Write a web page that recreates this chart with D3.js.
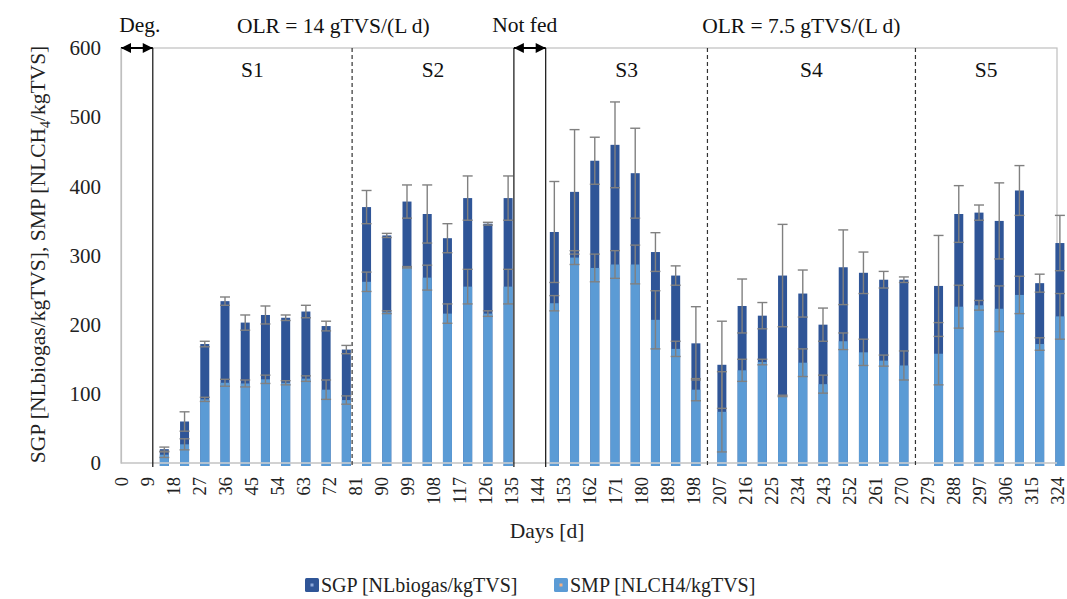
<!DOCTYPE html>
<html>
<head>
<meta charset="utf-8">
<script src="https://cdn.jsdelivr.net/npm/d3@7"></script>
<style>
  html, body { margin: 0; padding: 0; background: #fff; }
  svg { display: block; font-family: "Liberation Serif", "Times New Roman", serif; }
</style>
</head>
<body>
<svg id="chart" width="1067" height="599"></svg>
<script>
// Sampling days (weekly measurements over the five stages)
const days = [15, 22, 29, 36, 43, 50, 57, 64, 71, 78,
              85, 92, 99, 106, 113, 120, 127, 134,
              150, 157, 164, 171, 178, 185, 192, 199,
              208, 215, 222, 229, 236, 243, 250, 257, 264, 271,
              283, 290, 297, 304, 311, 318, 325];

// Specific gas production [NL biogas / kg TVS] and its standard deviation
const sgp = [20, 60, 172, 234, 203, 214, 210, 219, 198, 164,
             370, 329, 378, 360, 325, 383, 346, 383,
             334, 392, 437, 460, 419, 305, 271, 173,
             142, 227, 213, 271, 245, 200, 283, 275, 265, 265,
             256, 360, 362, 350, 394, 260, 318];
const sgpErr = [3, 14, 4, 6, 11, 13, 4, 9, 7, 6,
                24, 3, 24, 42, 21, 32, 2, 32,
                73, 90, 34, 62, 65, 28, 14, 53,
                63, 39, 19, 74, 34, 24, 54, 30, 12, 4,
                73, 41, 11, 55, 36, 13, 40];

// Specific methane production [NL CH4 / kg TVS] and its standard deviation
const smp = [12, 27, 92, 116, 115, 121, 116, 122, 106, 91,
             262, 218, 283, 268, 216, 255, 216, 255,
             231, 297, 282, 287, 287, 207, 165, 106,
             74, 134, 146, 97, 145, 114, 176, 160, 148, 141,
             158, 226, 228, 223, 243, 172, 212];
const smpErr = [4, 8, 3, 5, 5, 6, 3, 4, 14, 6,
                14, 2, 1, 18, 14, 25, 4, 25,
                11, 10, 20, 20, 28, 42, 11, 16,
                58, 16, 4, 1, 20, 13, 12, 19, 8, 21,
                45, 31, 7, 33, 27, 9, 33];

// Axis ticks
const xTicks = d3.range(0, 325, 9);
const yTicks = [0, 100, 200, 300, 400, 500, 600];

// Operating periods
const solidLines = [11, 136, 147];          // end of degassing, not-fed window
const dashedLines = [80, 203, 275];         // S1|S2, S3|S4, S4|S5
const stages = [
  { name: "S1", from: 11, to: 80 },
  { name: "S2", from: 80, to: 136 },
  { name: "S3", from: 147, to: 203 },
  { name: "S4", from: 203, to: 275 },
  { name: "S5", from: 275, to: 324 }
];
const loadings = [
  { label: "OLR = 14 gTVS/(L d)", from: 11, to: 136 },
  { label: "OLR = 7.5 gTVS/(L d)", from: 147, to: 324 }
];
const arrows = [
  { label: "Deg.", from: 0, to: 11, shift: 3 },
  { label: "Not fed", from: 136, to: 147, shift: -5 }
];

const C_SGP = "#2F5597";
const C_SMP = "#5B9BD5";
const C_ERR = "#808080";
const FS = 21.5;

const svg = d3.select("#chart");
const pLeft = 121, pRight = 1057, pTop = 48, pBottom = 463;

const x = d3.scaleLinear().domain([0, 324]).range([pLeft, pRight]);
const y = d3.scaleLinear().domain([0, 600]).range([pBottom, pTop]);
const barW = 9, capW = 10;

// plot frame
svg.append("rect")
  .attr("x", pLeft).attr("y", pTop)
  .attr("width", pRight - pLeft).attr("height", pBottom - pTop)
  .attr("fill", "none").attr("stroke", "#BFBFBF").attr("stroke-width", 1.2);

// bars: SGP behind, SMP in front
const rows = days.map((d, i) => ({ d, sgp: sgp[i], sgpErr: sgpErr[i], smp: smp[i], smpErr: smpErr[i] }));

svg.append("g").selectAll("rect").data(rows).join("rect")
  .attr("x", r => x(r.d) - barW / 2).attr("width", barW)
  .attr("y", r => y(r.sgp)).attr("height", r => y(0) - y(r.sgp) + 3)
  .attr("fill", C_SGP);

svg.append("g").selectAll("rect").data(rows).join("rect")
  .attr("x", r => x(r.d) - barW / 2).attr("width", barW)
  .attr("y", r => y(r.smp)).attr("height", r => y(0) - y(r.smp) + 3)
  .attr("fill", C_SMP);

// x axis line drawn over bar feet
svg.append("line")
  .attr("x1", pLeft).attr("x2", pRight).attr("y1", y(0)).attr("y2", y(0))
  .attr("stroke", "#D0D0D0").attr("stroke-width", 1.5);

// error bars
function errorBars(key, errKey) {
  const g = svg.append("g").attr("stroke", C_ERR).attr("stroke-width", 1.4).attr("fill", "none");
  rows.forEach(r => {
    const cx = x(r.d), hi = y(r[key] + r[errKey]), lo = y(Math.max(0, r[key] - r[errKey]));
    g.append("line").attr("x1", cx).attr("x2", cx).attr("y1", hi).attr("y2", lo);
    g.append("line").attr("x1", cx - capW / 2).attr("x2", cx + capW / 2).attr("y1", hi).attr("y2", hi);
    g.append("line").attr("x1", cx - capW / 2).attr("x2", cx + capW / 2).attr("y1", lo).attr("y2", lo);
  });
}
errorBars("sgp", "sgpErr");
errorBars("smp", "smpErr");

// stage separators
svg.append("g").selectAll("line").data(solidLines).join("line")
  .attr("x1", d => x(d)).attr("x2", d => x(d))
  .attr("y1", pTop).attr("y2", pBottom + 4)
  .attr("stroke", "#222").attr("stroke-width", 1.3);

svg.append("g").selectAll("line").data(dashedLines).join("line")
  .attr("x1", d => x(d)).attr("x2", d => x(d))
  .attr("y1", pTop).attr("y2", pBottom + 4)
  .attr("stroke", "#333").attr("stroke-width", 1.2)
  .attr("stroke-dasharray", "4,3");

// stage names
svg.append("g").selectAll("text").data(stages).join("text")
  .attr("x", s => (x(s.from) + x(s.to)) / 2).attr("y", 77)
  .attr("text-anchor", "middle").attr("font-size", FS).attr("fill", "#111")
  .text(s => s.name);

// loading rates above the frame
svg.append("g").selectAll("text").data(loadings).join("text")
  .attr("x", s => (x(s.from) + x(s.to)) / 2).attr("y", 33)
  .attr("text-anchor", "middle").attr("font-size", FS).attr("fill", "#111")
  .text(s => s.label);

// double-headed arrows (heads pointing outward)
svg.append("defs").append("marker").attr("id", "ah")
  .attr("viewBox", "0 0 10 10").attr("refX", 10).attr("refY", 5)
  .attr("markerWidth", 11).attr("markerHeight", 10).attr("markerUnits", "userSpaceOnUse")
  .attr("orient", "auto-start-reverse")
  .append("path").attr("d", "M0,0 L10,5 L0,10 Z").attr("fill", "#000");

arrows.forEach(a => {
  svg.append("line")
    .attr("x1", x(a.from)).attr("x2", x(a.to)).attr("y1", pTop).attr("y2", pTop)
    .attr("stroke", "#000").attr("stroke-width", 2)
    .attr("marker-start", "url(#ah)").attr("marker-end", "url(#ah)");
  svg.append("text")
    .attr("x", (x(a.from) + x(a.to)) / 2 + a.shift).attr("y", 32)
    .attr("text-anchor", "middle").attr("font-size", FS).attr("fill", "#111")
    .text(a.label);
});

// y axis
const yAxis = d3.axisLeft(y).tickValues(yTicks).tickSize(0).tickPadding(20);
const gy = svg.append("g").attr("transform", `translate(${pLeft},0)`).call(yAxis);
gy.select(".domain").attr("stroke", "#BFBFBF").attr("stroke-width", 1.2);
gy.selectAll("text").attr("font-size", 21).attr("font-family", "Liberation Serif").attr("fill", "#222");

// x axis labels (rotated)
const xAxis = d3.axisBottom(x).tickValues(xTicks).tickSize(0).tickFormat(d3.format("d"));
const gx = svg.append("g").attr("transform", `translate(0,${pBottom})`).call(xAxis);
gx.select(".domain").remove();
gx.selectAll("text")
  .attr("font-size", 18.5).attr("font-family", "Liberation Serif").attr("fill", "#222")
  .attr("text-anchor", "end").attr("dy", "0.35em")
  .attr("transform", "translate(0,14) rotate(-90)")
  .attr("y", 0).attr("x", 0);

// axis titles
svg.append("text")
  .attr("x", 547).attr("y", 538).attr("text-anchor", "middle")
  .attr("font-size", FS).attr("fill", "#222").text("Days [d]");

const yt = svg.append("text")
  .attr("transform", `translate(45,${(pTop + pBottom) / 2 - 1}) rotate(-90)`)
  .attr("text-anchor", "middle").attr("font-size", FS).attr("fill", "#222");
yt.append("tspan").text("SGP [NLbiogas/kgTVS], SMP [NLCH");
yt.append("tspan").attr("font-size", 14).attr("dy", 5).text("4");
yt.append("tspan").attr("dy", -5).text("/kgTVS]");

// legend
const legend = [
  { label: "SGP [NLbiogas/kgTVS]", color: C_SGP, dot: "#8EA9DB", x: 305 },
  { label: "SMP [NLCH4/kgTVS]", color: C_SMP, dot: "#F4B183", x: 554 }
];
legend.forEach(l => {
  svg.append("rect").attr("x", l.x).attr("y", 578).attr("width", 14).attr("height", 14)
    .attr("rx", 1.5).attr("fill", l.color);
  svg.append("rect").attr("x", l.x + 5.5).attr("y", 583.5).attr("width", 3).attr("height", 3)
    .attr("fill", l.dot);
  svg.append("text").attr("x", l.x + 16).attr("y", 592)
    .attr("font-size", 20).attr("fill", "#222").text(l.label);
});
</script>
</body>
</html>
